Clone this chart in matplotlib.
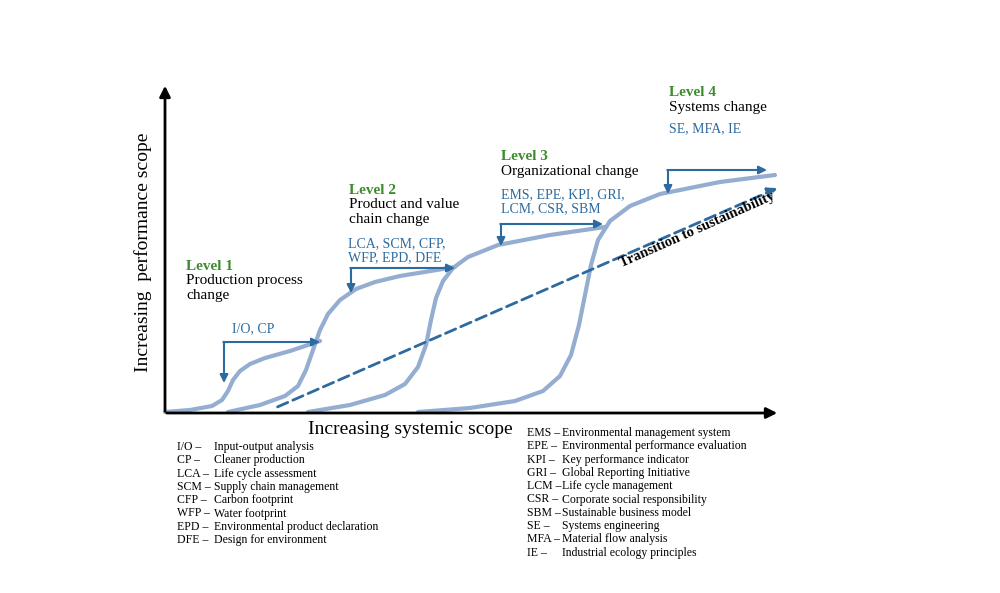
import matplotlib
matplotlib.use('Agg')
import matplotlib.pyplot as plt

# curve points (pixel coordinates, y downward)
curve1_x = [165, 190, 212, 222, 228, 233, 240, 250, 265, 290, 320]
curve1_y = [412, 410, 406, 400, 391, 380, 371, 364, 358, 351, 341]
curve2_x = [228, 260, 285, 298, 306, 313, 320, 328, 340, 356, 375, 400, 455]
curve2_y = [412, 405, 396, 386, 370, 350, 330, 314, 300, 289, 282, 276, 267]
curve3_x = [308, 350, 385, 405, 418, 426, 431, 436, 443, 453, 468, 498, 550, 605]
curve3_y = [412, 405, 395, 384, 367, 345, 320, 298, 281, 268, 257, 245, 235, 227]
curve4_x = [418, 470, 515, 543, 560, 571, 579, 585, 591, 598, 610, 630, 660, 720, 775]
curve4_y = [412, 408, 401, 391, 376, 355, 325, 295, 265, 240, 221, 206, 194, 182, 175]
curves = [(curve1_x, curve1_y), (curve2_x, curve2_y), (curve3_x, curve3_y), (curve4_x, curve4_y)]

level_titles = ['Level 1', 'Level 2', 'Level 3', 'Level 4']
level_desc = ['Production process\nchange', 'Product and value\nchain change',
              'Organizational change', 'Systems change']
level_tools = ['I/O, CP', 'LCA, SCM, CFP,\nWFP, EPD, DFE',
               'EMS, EPE, KPI, GRI,\nLCM, CSR, SBM', 'SE, MFA, IE']
level_pos = [(186, 266), (349, 190), (501, 157), (669, 93)]
tools_pos = [(232, 329), (348, 251), (501, 202), (669, 129)]
# brackets: x of vertical arm, y bottom, y top (horizontal), x end
brackets = [(224, 383, 342, 320), (351, 293, 268, 455), (501, 246, 224, 603), (668, 194, 170, 767)]

legend_left = [('I/O –', 'Input-output analysis'), ('CP –', 'Cleaner production'),
               ('LCA –', 'Life cycle assessment'), ('SCM –', 'Supply chain management'),
               ('CFP –', 'Carbon footprint'), ('WFP –', 'Water footprint'),
               ('EPD –', 'Environmental product declaration'), ('DFE –', 'Design for environment')]
legend_right = [('EMS –', 'Environmental management system'), ('EPE –', 'Environmental performance evaluation'),
                ('KPI –', 'Key performance indicator'), ('GRI –', 'Global Reporting Initiative'),
                ('LCM –', 'Life cycle management'), ('CSR –', 'Corporate social responsibility'),
                ('SBM –', 'Sustainable business model'), ('SE –', 'Systems engineering'),
                ('MFA –', 'Material flow analysis'), ('IE –', 'Industrial ecology principles')]

plt.rcParams['font.family'] = 'Liberation Serif'
CURVE = '#94add0'
BLUE = '#2d6a9f'
GREEN = '#3c8c2c'

fig = plt.figure(figsize=(10, 5.93), dpi=100)
ax = fig.add_axes([0, 0, 1, 1])
ax.set_xlim(0, 1000)
ax.set_ylim(593, 0)
ax.axis('off')

# axes arrows
ax.annotate('', xy=(165, 83), xytext=(165, 414),
            arrowprops=dict(arrowstyle='-|>', color='black', lw=2, mutation_scale=16))
ax.annotate('', xy=(780, 413), xytext=(164, 413),
            arrowprops=dict(arrowstyle='-|>', color='black', lw=2, mutation_scale=16))
ax.text(143, 252, 'Increasing  performance scope', rotation=90, ha='center', va='center', fontsize=14)
ax.text(410, 429, 'Increasing systemic scope', ha='center', va='center', fontsize=14)

for cx, cy in curves:
    ax.plot(cx, cy, color=CURVE, lw=3, solid_capstyle='round', solid_joinstyle='round')

ax.annotate('', xy=(780, 187), xytext=(275, 408),
            arrowprops=dict(arrowstyle='-|>', color=BLUE, lw=2, ls=(0, (4, 2)), mutation_scale=14))
ax.text(697, 230, 'Transition to sustainability', rotation=24, ha='center', va='center',
        fontsize=10.5, fontweight='bold', color='black')

for i in range(4):
    x, y = level_pos[i]
    ax.text(x, y, level_titles[i], color=GREEN, fontweight='bold', fontsize=11, va='center')
    ax.text(x, y + 8, level_desc[i], fontsize=11, va='top', linespacing=1.15)
    tx, ty = tools_pos[i]
    ax.text(tx, ty, level_tools[i], color=BLUE, fontsize=10, va='center', linespacing=1.1)
    bx, yb, yt, xe = brackets[i]
    ax.annotate('', xy=(bx, yb), xytext=(bx, yt),
                arrowprops=dict(arrowstyle='-|>', color=BLUE, lw=1.5, mutation_scale=12, shrinkA=0, shrinkB=0))
    ax.annotate('', xy=(xe, yt), xytext=(bx - 0.7, yt),
                arrowprops=dict(arrowstyle='-|>', color=BLUE, lw=1.5, mutation_scale=12, shrinkA=0, shrinkB=0))

for i, (a, b) in enumerate(legend_left):
    y = 447 + i * 13.3
    ax.text(177, y, a, fontsize=8.5, va='center')
    ax.text(214, y, b, fontsize=8.5, va='center')
for i, (a, b) in enumerate(legend_right):
    y = 433 + i * 13.3
    ax.text(527, y, a, fontsize=8.5, va='center')
    ax.text(562, y, b, fontsize=8.5, va='center')

fig.savefig('out.png', dpi=100)
